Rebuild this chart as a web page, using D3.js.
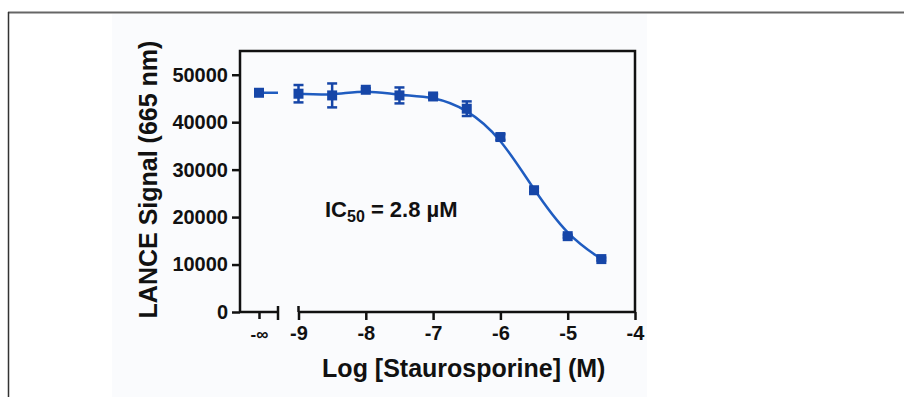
<!DOCTYPE html>
<html>
<head>
<meta charset="utf-8">
<script src="https://cdn.jsdelivr.net/npm/d3@7"></script>
<style>
  body { margin: 0; background: #fff; }
  svg text { font-family: "Liberation Sans", Arial, Helvetica, sans-serif; font-weight: bold; fill: #111; }
</style>
</head>
<body>
<div id="chart"></div>
<script>
/* data */
var infLabel = ["-\u221e"];
var infValue = [46200];
var logConc = [-9, -8.5, -8, -7.5, -7, -6.5, -6, -5.5, -5, -4.5];
var signal = [46000, 45640, 46830, 45640, 45420, 42840, 36870, 25660, 15980, 11150];
var signalErr = [1830, 2520, 300, 1680, 500, 1540, 600, 400, 300, 300];
var xTicks = [-9, -8, -7, -6, -5, -4];
var yTicks = [0, 10000, 20000, 30000, 40000, 50000];

var width = 904, height = 397;
var blue = "#1f5cc0", markBlue = "#1646a8";

var svg = d3.select("#chart").append("svg")
  .attr("width", width)
  .attr("height", height);

/* page frame */
svg.append("rect").attr("x", 112).attr("y", 14).attr("width", 535).attr("height", height - 14)
  .attr("fill", "#fafbfd");
svg.append("line").attr("x1", 8).attr("x2", width).attr("y1", 12.5).attr("y2", 12.5)
  .attr("stroke", "#666").attr("stroke-width", 2);
svg.append("line").attr("x1", 8.5).attr("x2", 8.5).attr("y1", 12).attr("y2", height)
  .attr("stroke", "#333").attr("stroke-width", 1.5);

/* scales */
var pLeft = 240, pRight = 635, pTop = 51, pBottom = 312, breakX = 278;
var xInf = d3.scalePoint().domain(infLabel).range([pLeft, breakX]).padding(0.5);
var x = d3.scaleLinear().domain([-9, -4]).range([298.5, pRight]);
var y = d3.scaleLinear().domain([0, 55000]).range([pBottom, pTop]);

/* box: left, top, right */
svg.append("path")
  .attr("d", "M" + pLeft + "," + pBottom + "V" + pTop + "H" + pRight + "V" + pBottom)
  .attr("fill", "none").attr("stroke", "#111").attr("stroke-width", 2.5);

/* y axis */
var yAxis = svg.append("g").attr("transform", "translate(" + pLeft + ",0)")
  .call(d3.axisLeft(y).tickValues(yTicks).tickSize(8).tickPadding(4).tickFormat(function (d) { return String(d); }));
yAxis.select(".domain").remove();
yAxis.selectAll("line").attr("stroke", "#111").attr("stroke-width", 2.5);
yAxis.selectAll("text").style("font-size", "20px").attr("fill", "#111");

/* x axis, broken: -inf part */
var xAxis1 = svg.append("g").attr("transform", "translate(0," + pBottom + ")")
  .call(d3.axisBottom(xInf).tickSize(7).tickPadding(9));
xAxis1.select(".domain").attr("d", "M" + pLeft + ",0H" + breakX).attr("stroke", "#111").attr("stroke-width", 2.5);
xAxis1.selectAll("line").attr("stroke", "#111").attr("stroke-width", 2.5);
xAxis1.selectAll("text").style("font-size", "17px").attr("fill", "#111");
svg.append("line").attr("x1", breakX).attr("x2", breakX).attr("y1", pBottom - 6).attr("y2", pBottom + 8)
  .attr("stroke", "#111").attr("stroke-width", 2.5);

/* x axis, broken: log part */
var xAxis2 = svg.append("g").attr("transform", "translate(0," + pBottom + ")")
  .call(d3.axisBottom(x).tickValues(xTicks).tickSize(8).tickPadding(6).tickFormat(function (d) { return String(d); }));
xAxis2.select(".domain").attr("d", "M" + x(-9) + ",0H" + pRight).attr("stroke", "#111").attr("stroke-width", 2.5);
xAxis2.selectAll("line").attr("stroke", "#111").attr("stroke-width", 2.5);
xAxis2.selectAll("text").style("font-size", "20px").attr("fill", "#111");
svg.append("line").attr("x1", x(-9)).attr("x2", x(-9)).attr("y1", pBottom - 6).attr("y2", pBottom)
  .attr("stroke", "#111").attr("stroke-width", 2.5);

/* axis titles */
svg.append("text")
  .attr("transform", "translate(157," + ((pTop + pBottom) / 2 - 2) + ") rotate(-90)")
  .attr("text-anchor", "middle")
  .style("font-size", "25px")
  .text("LANCE Signal (665 nm)");
svg.append("text")
  .attr("x", (x(-9) + pRight) / 2 - 3).attr("y", 377)
  .attr("text-anchor", "middle")
  .style("font-size", "25px")
  .text("Log [Staurosporine] (M)");

/* annotation */
var ann = svg.append("text").attr("x", 325).attr("y", 217).style("font-size", "22px");
ann.append("tspan").text("IC");
ann.append("tspan").attr("dy", 5).style("font-size", "16px").text("50");
ann.append("tspan").attr("dy", -5).text(" = 2.8 \u00b5M");

/* -inf plateau line */
svg.append("line")
  .attr("x1", xInf(infLabel[0])).attr("x2", breakX)
  .attr("y1", y(infValue[0])).attr("y2", y(infValue[0]))
  .attr("stroke", blue).attr("stroke-width", 2.5);

/* smooth curve through the means */
var pts = logConc.map(function (d, i) { return { x: d, y: signal[i], e: signalErr[i] }; });
var line = d3.line()
  .x(function (d) { return x(d.x); })
  .y(function (d) { return y(d.y); })
  .curve(d3.curveBasis);
svg.append("path").datum(pts)
  .attr("d", line)
  .attr("fill", "none").attr("stroke", blue).attr("stroke-width", 2.5);

/* error bars */
var eb = svg.selectAll(".eb").data(pts).enter().append("g").attr("class", "eb");
eb.append("line")
  .attr("x1", function (d) { return x(d.x); }).attr("x2", function (d) { return x(d.x); })
  .attr("y1", function (d) { return y(d.y - d.e); }).attr("y2", function (d) { return y(d.y + d.e); })
  .attr("stroke", markBlue).attr("stroke-width", 2.5);
eb.each(function (d) {
  d3.select(this).selectAll(".cap").data([d.y - d.e, d.y + d.e]).enter().append("line")
    .attr("x1", x(d.x) - 5).attr("x2", x(d.x) + 5)
    .attr("y1", function (v) { return y(v); }).attr("y2", function (v) { return y(v); })
    .attr("stroke", markBlue).attr("stroke-width", 2.5);
});

/* markers */
var ms = 10;
svg.selectAll(".mk").data(pts).enter().append("rect").attr("class", "mk")
  .attr("x", function (d) { return x(d.x) - ms / 2; })
  .attr("y", function (d) { return y(d.y) - ms / 2; })
  .attr("width", ms).attr("height", ms)
  .attr("fill", markBlue);
svg.append("rect")
  .attr("x", xInf(infLabel[0]) - ms / 2).attr("y", y(infValue[0]) - ms / 2)
  .attr("width", ms).attr("height", ms)
  .attr("fill", markBlue);
</script>
</body>
</html>
